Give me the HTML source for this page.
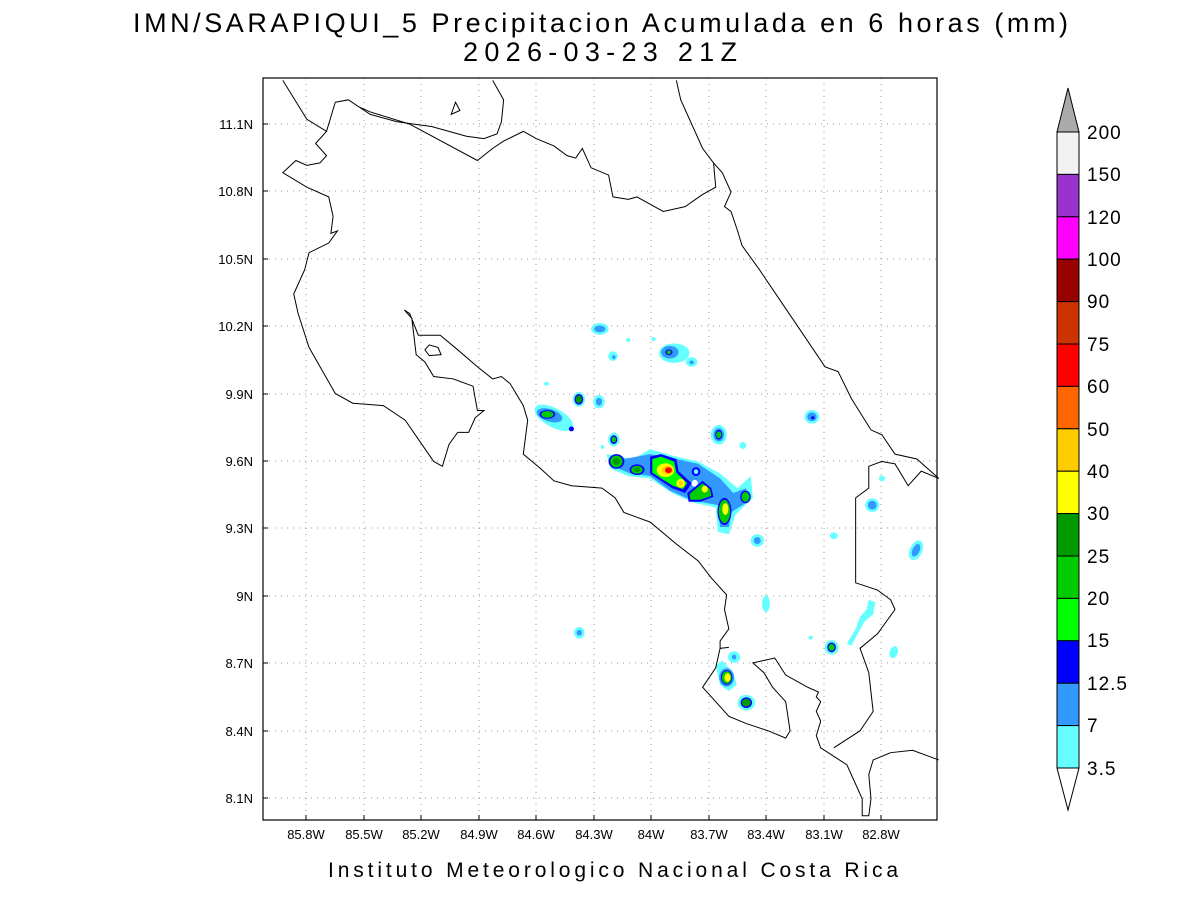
<!DOCTYPE html>
<html><head><meta charset="utf-8"><style>
body{margin:0;background:#fff;width:1200px;height:900px;overflow:hidden}
svg{display:block}
text{font-family:"Liberation Sans",sans-serif;fill:#000}
</style></head><body>
<svg width="1200" height="900" viewBox="0 0 1200 900">
<text x="133" y="32" font-size="27" textLength="935" lengthAdjust="spacing">IMN/SARAPIQUI_5 Precipitacion Acumulada en 6 horas (mm)</text>
<text x="463" y="61" font-size="27" textLength="274" lengthAdjust="spacing">2026-03-23 21Z</text>
<g stroke="#999" stroke-width="1" stroke-dasharray="1,5">
<line x1="306" y1="78" x2="306" y2="820"/><line x1="364" y1="78" x2="364" y2="820"/><line x1="421" y1="78" x2="421" y2="820"/><line x1="479" y1="78" x2="479" y2="820"/><line x1="536" y1="78" x2="536" y2="820"/><line x1="594" y1="78" x2="594" y2="820"/><line x1="651" y1="78" x2="651" y2="820"/><line x1="709" y1="78" x2="709" y2="820"/><line x1="766" y1="78" x2="766" y2="820"/><line x1="824" y1="78" x2="824" y2="820"/><line x1="881" y1="78" x2="881" y2="820"/>
<line x1="263" y1="124" x2="937" y2="124"/><line x1="263" y1="191" x2="937" y2="191"/><line x1="263" y1="259" x2="937" y2="259"/><line x1="263" y1="326" x2="937" y2="326"/><line x1="263" y1="394" x2="937" y2="394"/><line x1="263" y1="461" x2="937" y2="461"/><line x1="263" y1="528" x2="937" y2="528"/><line x1="263" y1="596" x2="937" y2="596"/><line x1="263" y1="663" x2="937" y2="663"/><line x1="263" y1="731" x2="937" y2="731"/><line x1="263" y1="798" x2="937" y2="798"/>
</g>
<g transform="translate(265.3,70.7) scale(0.4373,0.4854)">
<g>
<ellipse cx="765" cy="532" rx="20" ry="12" fill="#6ff"/><ellipse cx="765" cy="532" rx="13" ry="7" fill="#39f"/>
<ellipse cx="795" cy="588" rx="11" ry="10" fill="#6ff"/><ellipse cx="797" cy="590" rx="4" ry="4" fill="#39f"/>
<ellipse cx="830" cy="555" rx="5" ry="4" fill="#6ff"/><ellipse cx="888" cy="553" rx="5" ry="4" fill="#6ff"/>
<ellipse cx="935" cy="582" rx="35" ry="20" fill="#6ff"/><ellipse cx="925" cy="580" rx="20" ry="13" fill="#39f"/><ellipse cx="923" cy="580" rx="8" ry="6" fill="#00f"/><ellipse cx="923" cy="580" rx="5" ry="4" fill="#0c0"/>
<ellipse cx="975" cy="600" rx="13" ry="10" fill="#6ff"/><ellipse cx="975" cy="601" rx="5" ry="4" fill="#39f"/>
<ellipse cx="643" cy="645" rx="6" ry="4" fill="#6ff"/>
<ellipse cx="660" cy="715" rx="48" ry="20" fill="#6ff" transform="rotate(25 660 715)"/><ellipse cx="650" cy="710" rx="30" ry="13" fill="#39f" transform="rotate(15 650 710)"/><ellipse cx="645" cy="708" rx="18" ry="9" fill="#00f"/><ellipse cx="645" cy="708" rx="14" ry="7" fill="#0c0"/><ellipse cx="700" cy="738" rx="6" ry="5" fill="#00f"/>
<ellipse cx="717" cy="677" rx="14" ry="15" fill="#6ff"/><ellipse cx="717" cy="677" rx="10" ry="11" fill="#00f"/><ellipse cx="717" cy="677" rx="7" ry="8" fill="#090"/>
<ellipse cx="763" cy="682" rx="13" ry="14" fill="#6ff"/><ellipse cx="763" cy="682" rx="7" ry="8" fill="#39f"/>
<ellipse cx="797" cy="760" rx="13" ry="14" fill="#6ff"/><ellipse cx="797" cy="760" rx="8" ry="9" fill="#00f"/><ellipse cx="797" cy="760" rx="5" ry="6" fill="#0c0"/>
<ellipse cx="1092" cy="772" rx="8" ry="7" fill="#6ff"/><ellipse cx="771" cy="775" rx="4" ry="4" fill="#6ff"/>
<path d="M780 790 L840 800 L880 780 L940 795 L990 805 L1040 830 L1080 860 L1110 835 L1115 880 L1075 915 L1060 955 L1035 950 L1030 900 L980 890 L930 870 L880 840 L830 835 L790 820 Z" fill="#6ff"/>
<path d="M790 795 L820 800 L880 790 L940 800 L990 810 L1040 840 L1070 870 L1100 860 L1100 890 L1065 910 L1060 940 L1040 940 L1035 895 L975 885 L925 865 L880 835 L835 830 L795 815 Z" fill="#39f"/>
<ellipse cx="803" cy="805" rx="18" ry="15" fill="#00f"/><ellipse cx="803" cy="805" rx="14" ry="12" fill="#0c0"/><ellipse cx="803" cy="805" rx="8" ry="7" fill="#090"/>
<ellipse cx="850" cy="822" rx="17" ry="11" fill="#00f"/><ellipse cx="850" cy="822" rx="13" ry="8" fill="#0c0"/><ellipse cx="850" cy="822" rx="7" ry="5" fill="#090"/>
<path d="M880 795 L905 790 L940 800 L945 825 L975 850 L960 870 L930 860 L905 845 L880 830 Z" fill="#00f"/>
<path d="M885 800 L905 795 L935 805 L940 828 L965 850 L955 862 L932 855 L905 840 L885 828 Z" fill="#0f0"/>
<ellipse cx="915" cy="823" rx="20" ry="14" fill="#ff0"/><ellipse cx="920" cy="823" rx="13" ry="9" fill="#fc0"/><ellipse cx="922" cy="823" rx="8" ry="6" fill="#f00"/>
<ellipse cx="950" cy="850" rx="10" ry="9" fill="#ff0"/><ellipse cx="950" cy="850" rx="5" ry="5" fill="#fc0"/>
<ellipse cx="985" cy="826" rx="10" ry="9" fill="#00f"/><ellipse cx="985" cy="826" rx="5" ry="5" fill="#6ff"/>
<ellipse cx="982" cy="850" rx="7" ry="7" fill="#fff"/>
<path d="M965 870 L1000 845 L1020 860 L1025 878 L995 888 L968 888 Z" fill="#00f"/>
<path d="M970 872 L1000 850 L1017 862 L1020 876 L995 884 L972 884 Z" fill="#0c0"/>
<ellipse cx="1005" cy="862" rx="7" ry="7" fill="#ff0"/>
<ellipse cx="1050" cy="908" rx="16" ry="28" fill="#00f"/><ellipse cx="1050" cy="908" rx="13" ry="24" fill="#0c0"/><ellipse cx="1052" cy="903" rx="7" ry="12" fill="#ff0"/>
<ellipse cx="1098" cy="878" rx="12" ry="13" fill="#00f"/><ellipse cx="1098" cy="878" rx="9" ry="10" fill="#0c0"/>
<ellipse cx="1037" cy="750" rx="18" ry="20" fill="#6ff"/><ellipse cx="1037" cy="750" rx="12" ry="14" fill="#39f"/><ellipse cx="1037" cy="750" rx="8" ry="10" fill="#00f"/><ellipse cx="1037" cy="750" rx="6" ry="7" fill="#0c0"/>
<ellipse cx="1250" cy="713" rx="17" ry="14" fill="#6ff"/><ellipse cx="1250" cy="713" rx="11" ry="9" fill="#39f"/><ellipse cx="1252" cy="715" rx="4" ry="3" fill="#00f"/>
<ellipse cx="1410" cy="840" rx="7" ry="6" fill="#6ff"/>
<ellipse cx="1388" cy="895" rx="16" ry="14" fill="#6ff"/><ellipse cx="1388" cy="895" rx="10" ry="9" fill="#39f"/>
<ellipse cx="1488" cy="988" rx="14" ry="22" fill="#6ff" transform="rotate(30 1488 988)"/><ellipse cx="1488" cy="988" rx="8" ry="14" fill="#39f" transform="rotate(30 1488 988)"/>
<ellipse cx="1125" cy="968" rx="15" ry="13" fill="#6ff"/><ellipse cx="1125" cy="968" rx="8" ry="7" fill="#39f"/>
<ellipse cx="1300" cy="958" rx="9" ry="7" fill="#6ff"/>
<ellipse cx="1145" cy="1098" rx="9" ry="17" fill="#6ff"/>
<ellipse cx="718" cy="1158" rx="12" ry="12" fill="#6ff"/><ellipse cx="718" cy="1158" rx="6" ry="6" fill="#39f"/>
<path d="M1330 1180 L1350 1150 L1360 1125 L1375 1110 L1380 1090 L1395 1095 L1390 1120 L1370 1135 L1355 1160 L1340 1185 Z" fill="#6ff"/>
<ellipse cx="1437" cy="1198" rx="9" ry="13" fill="#6ff" transform="rotate(30 1437 1198)"/>
<ellipse cx="1247" cy="1168" rx="5" ry="4" fill="#6ff"/>
<ellipse cx="1295" cy="1188" rx="16" ry="15" fill="#6ff"/><ellipse cx="1295" cy="1188" rx="10" ry="10" fill="#00f"/><ellipse cx="1295" cy="1188" rx="7" ry="7" fill="#0c0"/>
<ellipse cx="1072" cy="1208" rx="14" ry="12" fill="#6ff"/><ellipse cx="1072" cy="1208" rx="5" ry="5" fill="#39f"/>
<path d="M1030 1225 L1045 1215 L1070 1240 L1078 1265 L1060 1278 L1040 1265 Z" fill="#6ff"/>
<ellipse cx="1055" cy="1250" rx="17" ry="19" fill="#39f"/><ellipse cx="1055" cy="1250" rx="13" ry="15" fill="#00f"/><ellipse cx="1055" cy="1250" rx="11" ry="13" fill="#0c0"/><ellipse cx="1057" cy="1250" rx="7" ry="9" fill="#ff0"/>
<ellipse cx="1100" cy="1302" rx="20" ry="16" fill="#6ff"/><ellipse cx="1100" cy="1302" rx="13" ry="11" fill="#00f"/><ellipse cx="1100" cy="1302" rx="10" ry="8" fill="#090"/>
</g>
<g fill="none" stroke="#000" stroke-width="1">
<path vector-effect="non-scaling-stroke" d="M40 20 L95 100 L140 125 L115 150 L140 175 L125 190 L95 195 L70 185 L40 210 L95 240 L145 260 L155 300 L150 335 L165 330 L145 355 L100 375 L90 410 L65 460 L75 500 L100 570 L160 665 L200 685 L270 690 L320 720 L385 805 L405 815 L420 770 L440 745 L465 745 L480 715 L500 700 L485 700 L475 650 L430 635 L385 630 L365 600 L345 585 L335 510 L318 493 L330 500 L350 545 L400 545 L440 575 L485 610 L520 635 L540 630 L560 645 L590 690 L600 720 L590 790 L630 820 L660 845 L700 855 L770 860 L800 880 L820 910 L880 930 L940 975 L990 1010 L1020 1045 L1055 1080 L1050 1110 L1060 1150 L1040 1175 L1040 1190 L1060 1188 L1040 1190 L1030 1230 L1000 1270 L1030 1300 L1060 1330 L1100 1345 L1150 1360 L1190 1375 L1200 1360 L1190 1300 L1160 1270 L1140 1240 L1115 1220 L1165 1210 L1190 1245 L1240 1270 L1265 1280 L1260 1290 L1270 1300 L1260 1320 L1270 1340 L1260 1370 L1270 1395 L1330 1430 L1350 1470 L1365 1500 L1365 1535 L1380 1535 L1385 1500 L1380 1450 L1390 1420 L1430 1405 L1480 1400 L1540 1420"/>
<path vector-effect="non-scaling-stroke" d="M1300 1395 L1360 1360 L1390 1320 L1380 1240 L1360 1190 L1400 1160 L1440 1110 L1430 1090 L1400 1070 L1350 1055 L1350 880 L1380 860 L1380 815 L1410 805 L1440 810 L1470 855 L1500 825 L1540 840"/>
<path vector-effect="non-scaling-stroke" d="M160 65 L190 60 L215 75 L240 90 L300 105 L340 110 L380 115 L420 125 L460 135 L500 140 L530 130 L540 105 L545 60 L520 20"/>
<path vector-effect="non-scaling-stroke" d="M160 65 L140 125 M215 75 L240 85 L330 110 L485 185 L520 160 L545 145 L590 125 L620 140 L660 155 L690 175 L710 180 L725 160 L745 200 L785 215 L795 260 L830 265 L850 260 L870 270 L910 290 L960 280 L1000 255 L1030 240 L1025 190 L1045 210 L1065 250 L1050 280 L1065 290 L1080 330 L1090 360 L1130 410 L1190 490 L1220 530 L1280 610 L1310 620 L1340 675 L1385 740 L1410 750 L1440 790 L1490 800 L1540 840"/>
<path vector-effect="non-scaling-stroke" d="M940 20 L950 60 L970 100 L1000 160 L1025 190"/>
<path vector-effect="non-scaling-stroke" d="M425 90 L445 82 L435 65 Z"/>
<path vector-effect="non-scaling-stroke" d="M365 575 L375 565 L395 570 L402 585 L375 587 Z"/>
</g>
</g>
<rect x="263" y="78" width="674" height="742" fill="none" stroke="#000" stroke-width="1.2"/>
<g stroke="#000" stroke-width="1">
<line x1="306" y1="820" x2="306" y2="815"/><line x1="364" y1="820" x2="364" y2="815"/><line x1="421" y1="820" x2="421" y2="815"/><line x1="479" y1="820" x2="479" y2="815"/><line x1="536" y1="820" x2="536" y2="815"/><line x1="594" y1="820" x2="594" y2="815"/><line x1="651" y1="820" x2="651" y2="815"/><line x1="709" y1="820" x2="709" y2="815"/><line x1="766" y1="820" x2="766" y2="815"/><line x1="824" y1="820" x2="824" y2="815"/><line x1="881" y1="820" x2="881" y2="815"/>
<line x1="263" y1="124" x2="268" y2="124"/><line x1="263" y1="191" x2="268" y2="191"/><line x1="263" y1="259" x2="268" y2="259"/><line x1="263" y1="326" x2="268" y2="326"/><line x1="263" y1="394" x2="268" y2="394"/><line x1="263" y1="461" x2="268" y2="461"/><line x1="263" y1="528" x2="268" y2="528"/><line x1="263" y1="596" x2="268" y2="596"/><line x1="263" y1="663" x2="268" y2="663"/><line x1="263" y1="731" x2="268" y2="731"/><line x1="263" y1="798" x2="268" y2="798"/>
</g>
<g font-size="13" text-anchor="middle">
<text x="306" y="839">85.8W</text><text x="364" y="839">85.5W</text><text x="421" y="839">85.2W</text><text x="479" y="839">84.9W</text><text x="536" y="839">84.6W</text><text x="594" y="839">84.3W</text><text x="651" y="839">84W</text><text x="709" y="839">83.7W</text><text x="766" y="839">83.4W</text><text x="824" y="839">83.1W</text><text x="881" y="839">82.8W</text>
</g>
<g font-size="13" text-anchor="end">
<text x="253" y="129">11.1N</text><text x="253" y="196">10.8N</text><text x="253" y="264">10.5N</text><text x="253" y="331">10.2N</text><text x="253" y="399">9.9N</text><text x="253" y="466">9.6N</text><text x="253" y="533">9.3N</text><text x="253" y="601">9N</text><text x="253" y="668">8.7N</text><text x="253" y="736">8.4N</text><text x="253" y="803">8.1N</text>
</g>
<text x="328" y="877" font-size="21" textLength="570" lengthAdjust="spacing" fill="#333">Instituto Meteorologico Nacional Costa Rica</text>
<g stroke="#000" stroke-width="1">
<polygon points="1057,132 1068,88 1079,132" fill="#aaa"/>
<rect x="1057" y="132" width="22" height="42.4" fill="#f2f2f2"/>
<rect x="1057" y="174.4" width="22" height="42.4" fill="#93c"/>
<rect x="1057" y="216.8" width="22" height="42.4" fill="#f0f"/>
<rect x="1057" y="259.2" width="22" height="42.4" fill="#900"/>
<rect x="1057" y="301.6" width="22" height="42.4" fill="#c30"/>
<rect x="1057" y="344" width="22" height="42.4" fill="#f00"/>
<rect x="1057" y="386.4" width="22" height="42.4" fill="#f60"/>
<rect x="1057" y="428.8" width="22" height="42.4" fill="#fc0"/>
<rect x="1057" y="471.2" width="22" height="42.4" fill="#ff0"/>
<rect x="1057" y="513.6" width="22" height="42.4" fill="#090"/>
<rect x="1057" y="556" width="22" height="42.4" fill="#0c0"/>
<rect x="1057" y="598.4" width="22" height="42.4" fill="#0f0"/>
<rect x="1057" y="640.8" width="22" height="42.4" fill="#00f"/>
<rect x="1057" y="683.2" width="22" height="42.4" fill="#39f"/>
<rect x="1057" y="725.6" width="22" height="42.4" fill="#6ff"/>
<polygon points="1057,768 1068,810 1079,768" fill="#fff"/>
</g>
<g font-size="19" letter-spacing="1">
<text x="1087" y="139">200</text><text x="1087" y="181">150</text><text x="1087" y="224">120</text><text x="1087" y="266">100</text><text x="1087" y="308">90</text><text x="1087" y="351">75</text><text x="1087" y="393">60</text><text x="1087" y="436">50</text><text x="1087" y="478">40</text><text x="1087" y="520">30</text><text x="1087" y="563">25</text><text x="1087" y="605">20</text><text x="1087" y="647">15</text><text x="1087" y="690">12.5</text><text x="1087" y="732">7</text><text x="1087" y="775">3.5</text>
</g>
</svg>
</body></html>
